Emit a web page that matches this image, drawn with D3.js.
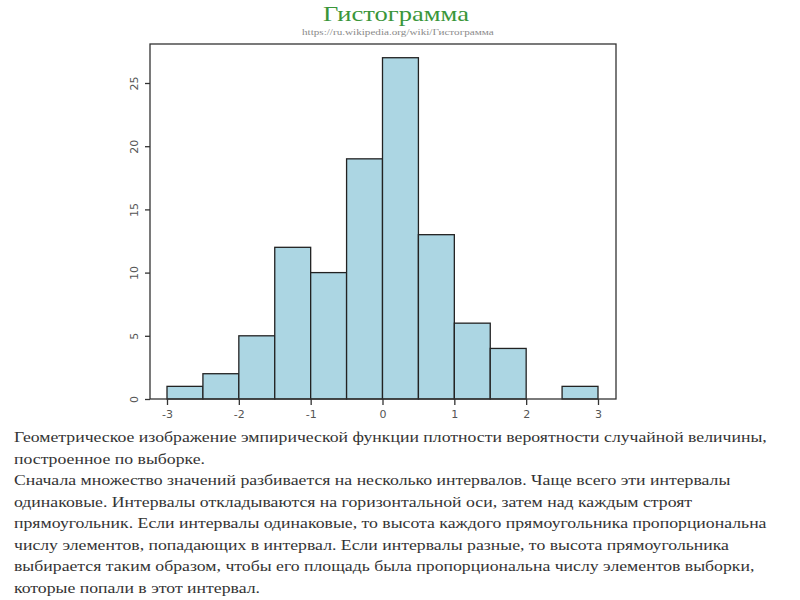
<!DOCTYPE html>
<html><head><meta charset="utf-8">
<script src="https://cdn.jsdelivr.net/npm/d3@7"></script>
<style>body{margin:0;background:#fff}</style>
</head><body>
<svg id="c" width="800" height="600"></svg>
<script>
const binStarts = [-3, -2.5, -2, -1.5, -1, -0.5, 0, 0.5, 1, 1.5, 2, 2.5];
const binWidth = 0.5;
const counts = [1, 2, 5, 12, 10, 19, 27, 13, 6, 4, 0, 1];
const xTicks = [-3, -2, -1, 0, 1, 2, 3];
const yTicks = [0, 5, 10, 15, 20, 25];
const titleText = "Гистограмма";
const subtitleText = "https://ru.wikipedia.org/wiki/Гистограмма";
const bodyLines = [
  "Геометрическое изображение эмпирической функции плотности вероятности случайной величины,",
  "построенное по выборке.",
  "Сначала множество значений разбивается на несколько интервалов. Чаще всего эти интервалы",
  "одинаковые. Интервалы откладываются на горизонтальной оси, затем над каждым строят",
  "прямоугольник. Если интервалы одинаковые, то высота каждого прямоугольника пропорциональна",
  "числу элементов, попадающих в интервал. Если интервалы разные, то высота прямоугольника",
  "выбирается таким образом, чтобы его площадь была пропорциональна числу элементов выборки,",
  "которые попали в этот интервал."
];

const svg = d3.select("#c");
const box = {l: 150, r: 616, t: 44, b: 399};
const x = d3.scaleLinear().domain([-3, 3]).range([167, 598]);
const y = d3.scaleLinear().domain([0, 25]).range([399, 83]);

// bars
svg.append("g").selectAll("rect").data(binStarts).join("rect")
  .attr("x", (d) => x(d))
  .attr("y", (d, i) => y(counts[i]))
  .attr("width", (d) => x(d + binWidth) - x(d))
  .attr("height", (d, i) => y(0) - y(counts[i]))
  .attr("fill", (d, i) => counts[i] > 0 ? "#acd6e3" : "none")
  .attr("stroke", "#222")
  .attr("stroke-width", 1.3);

// box
svg.append("rect").attr("x", box.l).attr("y", box.t)
  .attr("width", box.r - box.l).attr("height", box.b - box.t)
  .attr("fill", "none").attr("stroke", "#333").attr("stroke-width", 1.3);

// x axis
const xa = svg.append("g").attr("transform", `translate(0,${box.b})`)
  .call(d3.axisBottom(x).tickValues(xTicks).tickSize(6).tickPadding(5).tickFormat(d => String(d)));
xa.select(".domain").remove();
xa.selectAll("line").attr("stroke", "#333").attr("stroke-width", 1.3);
xa.selectAll("text").attr("fill", "#555").attr("font-family", "DejaVu Sans").attr("font-size", 11);

// y axis
const ya = svg.append("g").attr("transform", `translate(${box.l},0)`)
  .call(d3.axisLeft(y).tickValues(yTicks).tickSize(5).tickFormat(d => String(d)));
ya.select(".domain").remove();
ya.selectAll("line").attr("stroke", "#333").attr("stroke-width", 1.3);
ya.selectAll("text").attr("fill", "#555").attr("font-family", "DejaVu Sans").attr("font-size", 11)
  .attr("x", null).attr("dy", null)
  .attr("text-anchor", "middle")
  .attr("transform", "translate(-12,0) rotate(-90)");

// horizontally stretched text helper (the slide appears widened)
function stretched(g, str, cx, cy, size, color, targetW, anchor) {
  const t = g.append("text").attr("font-family", "Liberation Serif")
    .attr("font-size", size).attr("fill", color).text(str);
  const w = t.node().getComputedTextLength();
  const sx = targetW / w;
  const x0 = anchor === "middle" ? cx - targetW / 2 : cx;
  t.attr("transform", `translate(${x0},${cy}) scale(${sx},1)`);
  return sx;
}

stretched(svg, titleText, 396, 21, 20, "#3a963a", 146, "middle");
stretched(svg, subtitleText, 398, 35, 8.5, "#8a8a8a", 192, "middle");

// body text with common horizontal stretch
const bodyG = svg.append("g");
const probe = bodyG.append("text").attr("font-family", "Liberation Serif").attr("font-size", 14.5).text(bodyLines[0]);
const sxBody = 753 / probe.node().getComputedTextLength();
probe.remove();
bodyG.selectAll("text").data(bodyLines).join("text")
  .attr("font-family", "Liberation Serif").attr("font-size", 14.5).attr("fill", "#333")
  .attr("transform", (d, i) => `translate(14,${442 + i * 21.5}) scale(${sxBody},1)`)
  .text(d => d);
</script>
</body></html>
